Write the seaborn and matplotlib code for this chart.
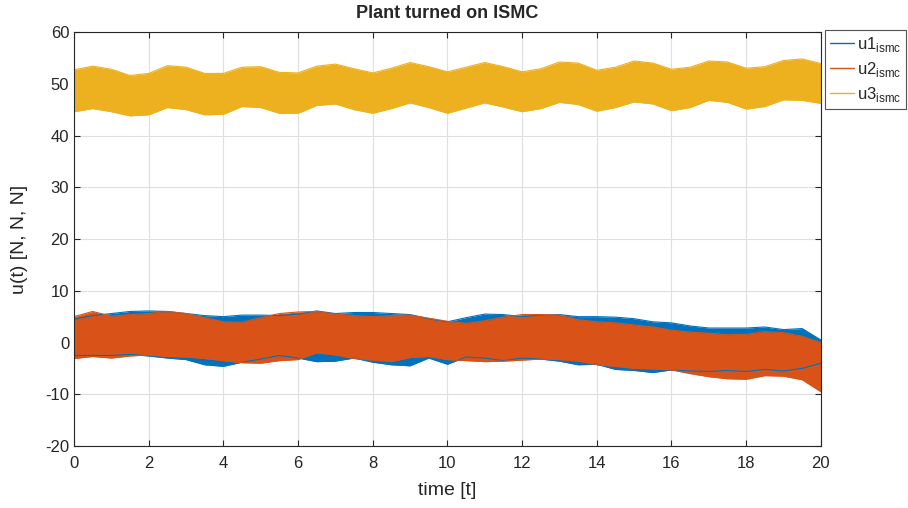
import numpy as np
import pandas as pd
import matplotlib
matplotlib.use("Agg")
import matplotlib.pyplot as plt
from matplotlib.lines import Line2D
import seaborn as sns

# time grid (s) and envelope of each chattering control signal
time = np.arange(0, 20.5, 0.5)

u1_upper = [4.5, 5.2, 5.6, 6.0, 6.1, 6.0, 5.6, 5.2, 5.0, 5.3, 5.3, 5.2, 5.5, 6.1, 5.6, 5.8,
            5.8, 5.6, 5.4, 4.6, 4.0, 4.8, 5.5, 5.4, 5.0, 5.3, 5.4, 5.0, 5.0, 4.9, 4.6, 4.0,
            3.8, 3.2, 2.8, 2.8, 2.8, 3.0, 2.5, 2.7, 0.5]
u1_lower = [-2.5, -2.5, -2.5, -2.3, -2.6, -3.0, -3.3, -4.3, -4.6, -3.8, -3.2, -2.5, -3.0, -3.7,
            -3.6, -3.0, -3.8, -4.3, -4.5, -3.0, -4.2, -2.8, -3.0, -3.5, -3.0, -3.2, -3.6, -4.3,
            -4.2, -5.2, -5.4, -5.8, -5.3, -5.5, -5.6, -5.4, -5.6, -5.2, -5.5, -5.0, -4.0]

u2_upper = [5.0, 6.0, 5.1, 5.4, 5.6, 6.0, 5.6, 4.8, 4.0, 3.9, 4.8, 5.6, 5.9, 6.0, 5.5, 5.2,
            5.0, 5.2, 5.3, 4.7, 4.1, 3.7, 4.2, 4.9, 5.4, 5.4, 5.3, 4.4, 4.0, 3.8, 3.4, 3.0,
            2.4, 2.0, 1.8, 1.5, 1.6, 2.1, 1.9, 1.2, 0.0]
u2_lower = [-3.1, -2.7, -3.0, -2.6, -2.4, -2.7, -2.8, -3.1, -3.5, -3.9, -4.0, -3.5, -3.3, -2.0,
            -2.4, -3.1, -3.4, -3.7, -2.9, -2.7, -3.3, -3.5, -3.7, -3.6, -3.4, -3.2, -3.3, -3.6,
            -4.3, -4.6, -5.0, -5.1, -5.3, -6.0, -6.6, -7.0, -7.1, -6.4, -6.5, -7.2, -9.5]

u3_upper = [52.7, 53.4, 52.8, 51.6, 52.0, 53.5, 53.2, 52.0, 52.0, 53.2, 53.3, 52.2, 52.1, 53.4,
            53.8, 52.9, 52.1, 53.0, 54.1, 53.3, 52.3, 53.2, 54.1, 53.3, 52.3, 52.9, 54.2, 54.0,
            52.6, 53.2, 54.4, 54.0, 52.8, 53.2, 54.4, 54.2, 53.0, 53.3, 54.5, 54.8, 53.9]
u3_lower = [44.6, 45.2, 44.6, 43.8, 44.0, 45.4, 45.0, 44.0, 44.1, 45.6, 45.4, 44.3, 44.3, 45.8,
            46.1, 45.0, 44.3, 45.2, 46.3, 45.4, 44.3, 45.3, 46.3, 45.5, 44.6, 45.2, 46.4, 46.0,
            44.7, 45.4, 46.5, 46.1, 44.8, 45.4, 46.8, 46.4, 45.1, 45.6, 46.9, 46.8, 46.2]

labels = [r"u1$_{\mathregular{ismc}}$", r"u2$_{\mathregular{ismc}}$", r"u3$_{\mathregular{ismc}}$"]
colors = ["#0072BD", "#D95319", "#EDB120"]

sns.set_style("ticks")
plt.rcParams["font.family"] = ["Liberation Sans", "DejaVu Sans"]
plt.rcParams["mathtext.fontset"] = "custom"
plt.rcParams["mathtext.rm"] = "Liberation Sans"
plt.rcParams["axes.unicode_minus"] = False

fig = plt.figure(figsize=(9.08, 5.08), dpi=100)
ax = fig.add_axes([0.0815, 0.122, 0.8225, 0.815])

bands = [(u1_lower, u1_upper), (u2_lower, u2_upper), (u3_lower, u3_upper)]
for (lo, hi), c in zip(bands, colors):
    df = pd.DataFrame({"t": time, "lo": lo, "hi": hi})
    ax.fill_between(df["t"], df["lo"], df["hi"], color=c, linewidth=0)
    sns.lineplot(data=df, x="t", y="hi", color=c, linewidth=0.8, ax=ax)
    sns.lineplot(data=df, x="t", y="lo", color=c, linewidth=0.8, ax=ax)

ax.set_xlim(0, 20)
ax.set_ylim(-20, 60)
ax.set_xticks(np.arange(0, 21, 2))
ax.set_yticks(np.arange(-20, 61, 10))
ax.grid(True, color="#dfdfdf", linewidth=0.8)
ax.set_axisbelow(True)
ax.tick_params(direction="in", top=True, right=True, labelsize=12, length=4, color="#262626")
ax.tick_params(axis="x", pad=7)
for s in ax.spines.values():
    s.set_color("#262626")
    s.set_linewidth(0.8)

ax.set_title("Plant turned on ISMC", fontsize=13, fontweight="bold", pad=10)
ax.set_xlabel("time [t]", fontsize=14, labelpad=8)
ax.set_ylabel("u(t) [N, N, N]", fontsize=14, labelpad=12)

handles = [Line2D([0], [0], color=c, linewidth=1) for c in colors]
leg = ax.legend(handles, labels, loc="upper left", bbox_to_anchor=(1.006, 1.005),
                fontsize=12, frameon=True, fancybox=False, handlelength=1.4,
                handletextpad=0.2, borderpad=0.3, labelspacing=0.35, borderaxespad=0)
leg.get_frame().set_edgecolor("#262626")
leg.get_frame().set_linewidth(0.8)

fig.savefig("out.png", dpi=100)
